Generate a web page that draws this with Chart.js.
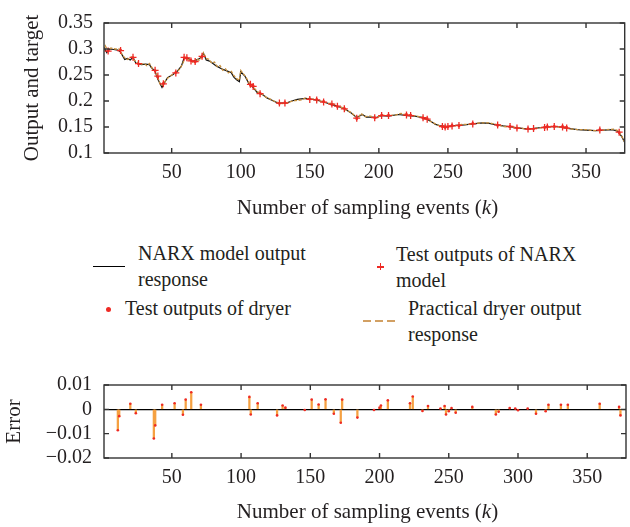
<!DOCTYPE html>
<html>
<head>
<meta charset="utf-8">
<script src="https://cdn.jsdelivr.net/npm/chart.js@4.4.0/dist/chart.umd.min.js"></script>
<style>
html, body { margin: 0; padding: 0; background: #fff; }
body { width: 630px; height: 527px; position: relative; overflow: hidden; font-family: 'Liberation Serif', serif; color: #231f20; }
#topBox { position: absolute; left: 0; top: 0; width: 630px; height: 225px; }
#errBox { position: absolute; left: 0; top: 360px; width: 630px; height: 167px; }
.lg { position: absolute; font-size: 20px; line-height: 26px; white-space: nowrap; }
.mk { position: absolute; }
.xt { position: absolute; left: 106px; width: 523px; text-align: center; font-size: 21px; line-height: 25px; white-space: nowrap; }
</style>
</head>
<body>
<div id="topBox"><canvas id="chart-top"></canvas></div>
<div class="xt" style="top:195px;">Number of sampling events (<i>k</i>)</div>

<div class="mk" style="left:93px;top:266px;width:32px;border-top:1.5px solid #000;"></div>
<div class="lg" style="left:138px;top:240px;">NARX model output<br>response</div>
<div class="mk" style="left:377px;top:266px;width:7px;height:1.5px;background:#ee2a24;"></div>
<div class="mk" style="left:379.7px;top:263px;width:1.5px;height:7px;background:#ee2a24;"></div>
<div class="lg" style="left:396px;top:241px;">Test outputs of NARX<br>model</div>
<div class="mk" style="left:105.5px;top:306.5px;width:5px;height:5px;border-radius:50%;background:#ee2a24;"></div>
<div class="lg" style="left:125px;top:295px;">Test outputs of dryer</div>
<div class="mk" style="left:363px;top:320px;width:32px;height:1.5px;background:repeating-linear-gradient(to right,#d2a063 0 8px,transparent 8px 12px);"></div>
<div class="lg" style="left:408px;top:295px;">Practical dryer output<br>response</div>

<div id="errBox"><canvas id="chart-err"></canvas></div>
<div class="xt" style="top:499px;">Number of sampling events (<i>k</i>)</div>

<script>
// axis ticks
const xTicks = [50, 100, 150, 200, 250, 300, 350];
const topYTicks = [0.1, 0.15, 0.2, 0.25, 0.3, 0.35];
const errYTicks = [-0.02, -0.01, 0, 0.01];

// NARX model output response
const modelK = [1, 3, 5, 8, 11, 13, 16, 18, 20, 22, 24, 28, 31, 34, 35, 38, 40, 43, 45, 47,
    51, 54, 57, 59, 62, 65, 69, 71, 73, 75, 78, 82, 86, 89, 93, 95, 97, 99, 100, 103,
    106, 109, 112, 116, 119, 123, 127, 133, 137, 141, 147, 152, 156, 160, 165, 170, 175, 180, 184, 188,
    191, 195, 198, 202, 207, 214, 221, 226, 232, 237, 241, 245, 250, 256, 262, 268, 275, 280, 285, 290,
    296, 302, 308, 314, 321, 326, 332, 338, 344, 350, 357, 363, 369, 373, 376, 378];
const modelOut = [0.303, 0.293, 0.300, 0.299, 0.298, 0.294, 0.280, 0.282, 0.279, 0.284, 0.273, 0.270, 0.271, 0.270, 0.265, 0.257, 0.242, 0.226, 0.236, 0.245,
    0.251, 0.257, 0.267, 0.283, 0.282, 0.276, 0.280, 0.283, 0.292, 0.279, 0.276, 0.268, 0.262, 0.259, 0.255, 0.246, 0.241, 0.237, 0.256, 0.248,
    0.233, 0.226, 0.216, 0.212, 0.206, 0.201, 0.196, 0.196, 0.200, 0.203, 0.205, 0.203, 0.201, 0.198, 0.194, 0.190, 0.185, 0.177, 0.168, 0.174,
    0.169, 0.169, 0.168, 0.172, 0.171, 0.174, 0.172, 0.171, 0.168, 0.162, 0.155, 0.152, 0.151, 0.153, 0.154, 0.156, 0.158, 0.157, 0.154, 0.152,
    0.150, 0.148, 0.146, 0.148, 0.150, 0.151, 0.150, 0.147, 0.145, 0.144, 0.143, 0.144, 0.145, 0.142, 0.131, 0.120];

// practical dryer output response
const dryerK = [1, 2, 4, 6, 9, 12, 14, 16, 18, 21, 23, 25, 27, 30, 32, 34, 36, 38, 40, 42,
    44, 46, 48, 51, 54, 56, 58, 60, 62, 64, 66, 68, 70, 72, 73, 75, 77, 79, 81, 83,
    85, 87, 89, 91, 93, 95, 97, 99, 100, 102, 104, 106, 108, 110, 112, 115, 118, 121, 124, 127,
    130, 133, 136, 140, 144, 147, 150, 153, 156, 160, 163, 166, 170, 173, 176, 180, 183, 185, 187, 190,
    194, 198, 202, 207, 212, 216, 221, 225, 229, 232, 235, 238, 241, 245, 250, 255, 260, 265, 270, 275,
    280, 285, 290, 295, 300, 305, 310, 315, 320, 325, 330, 335, 340, 345, 350, 355, 360, 365, 370, 373,
    376, 378];
const dryerOut = [0.297, 0.306, 0.296, 0.302, 0.300, 0.300, 0.290, 0.283, 0.280, 0.285, 0.278, 0.275, 0.270, 0.272, 0.268, 0.272, 0.263, 0.259, 0.245, 0.230,
    0.232, 0.241, 0.246, 0.252, 0.256, 0.262, 0.272, 0.284, 0.280, 0.278, 0.273, 0.281, 0.278, 0.286, 0.293, 0.282, 0.280, 0.273, 0.275, 0.266,
    0.268, 0.259, 0.262, 0.254, 0.258, 0.249, 0.243, 0.240, 0.259, 0.252, 0.245, 0.235, 0.229, 0.224, 0.218, 0.214, 0.208, 0.204, 0.200, 0.197,
    0.195, 0.196, 0.199, 0.201, 0.202, 0.206, 0.202, 0.204, 0.200, 0.199, 0.195, 0.196, 0.189, 0.188, 0.183, 0.178, 0.170, 0.167, 0.176, 0.170,
    0.171, 0.167, 0.173, 0.172, 0.173, 0.176, 0.173, 0.172, 0.170, 0.169, 0.164, 0.160, 0.156, 0.151, 0.150, 0.152, 0.155, 0.155, 0.157, 0.158,
    0.158, 0.155, 0.151, 0.150, 0.149, 0.147, 0.146, 0.148, 0.149, 0.151, 0.150, 0.148, 0.146, 0.145, 0.145, 0.143, 0.143, 0.145, 0.146, 0.143,
    0.132, 0.121];

// test outputs
const testK = [4, 13, 22, 26, 38, 40, 44, 53, 59, 61, 64, 67, 72, 107, 109, 114, 128, 132, 150, 155,
    160, 166, 170, 175, 184, 197, 202, 207, 220, 223, 232, 235, 246, 248, 250, 253, 258, 268, 286, 295,
    300, 308, 312, 320, 322, 327, 333, 336, 360, 374];
const testNarx = [0.296, 0.297, 0.284, 0.272, 0.259, 0.248, 0.233, 0.254, 0.284, 0.283, 0.277, 0.276, 0.286, 0.232, 0.228, 0.214, 0.196, 0.196, 0.203, 0.202,
    0.198, 0.194, 0.190, 0.185, 0.167, 0.168, 0.172, 0.172, 0.173, 0.172, 0.168, 0.165, 0.151, 0.150, 0.151, 0.152, 0.153, 0.156, 0.154, 0.151,
    0.148, 0.146, 0.147, 0.149, 0.150, 0.151, 0.150, 0.148, 0.144, 0.140];
const testDryer = [0.297, 0.298, 0.283, 0.271, 0.258, 0.246, 0.234, 0.255, 0.283, 0.282, 0.278, 0.275, 0.285, 0.231, 0.229, 0.215, 0.195, 0.197, 0.204, 0.203,
    0.199, 0.193, 0.189, 0.186, 0.166, 0.168, 0.173, 0.173, 0.174, 0.173, 0.167, 0.166, 0.151, 0.149, 0.150, 0.153, 0.152, 0.157, 0.153, 0.151,
    0.148, 0.147, 0.146, 0.149, 0.151, 0.151, 0.151, 0.149, 0.145, 0.139];

// error between model and dryer
const errK = [11, 12, 20, 24, 37, 38, 43, 52, 58, 60, 64, 71, 106, 107, 112, 126, 130, 132, 146, 151,
    156, 161, 167, 172, 173, 184, 196, 200, 201, 206, 222, 224, 231, 235, 244, 247, 248, 250, 252, 255,
    267, 284, 286, 294, 298, 300, 307, 313, 320, 322, 331, 336, 359, 373, 374];
const errVal = [-0.0086, -0.0028, 0.0023, -0.0016, -0.012, -0.0066, 0.0019, 0.0025, -0.0022, 0.004, 0.007, 0.0019, 0.0051, -0.0021, 0.0025, -0.0025, 0.0016, 0.0007, -0.0003, 0.004,
    0.002, 0.0041, -0.0018, -0.0055, 0.004, -0.0034, -0.0003, 0.0007, 0.0016, 0.0037, 0.0025, 0.0053, -0.0007, 0.0014, 0.0003, 0.0014, -0.0021, -0.0008, 0.0005, -0.0014,
    0.001, -0.0021, -0.001, 0.0005, 0.0003, -0.0004, 0.0003, -0.0018, -0.0008, 0.0019, 0.0019, 0.0019, 0.0023, 0.001, -0.0025];

const txt = '#231f20';
const tickFont = { family: 'Liberation Serif', size: 20 };
const titleFont = { family: 'Liberation Serif', size: 21 };

function pairs(ks, vs) {
    return ks.map((k, i) => ({ x: k, y: vs[i] }));
}

// box round the plot with inward tick marks on all four sides
const framePlugin = {
    id: 'frame',
    afterDraw(chart) {
        const { ctx, chartArea: a, scales: { x, y } } = chart;
        ctx.save();
        ctx.strokeStyle = '#333';
        ctx.lineWidth = 1.4;
        ctx.strokeRect(a.left, a.top, a.right - a.left, a.bottom - a.top);
        ctx.beginPath();
        x.ticks.forEach(t => {
            const px = x.getPixelForValue(t.value);
            ctx.moveTo(px, a.bottom); ctx.lineTo(px, a.bottom - 5);
            ctx.moveTo(px, a.top); ctx.lineTo(px, a.top + 5);
        });
        y.ticks.forEach(t => {
            const py = y.getPixelForValue(t.value);
            ctx.moveTo(a.left, py); ctx.lineTo(a.left + 5, py);
            ctx.moveTo(a.right, py); ctx.lineTo(a.right - 5, py);
        });
        ctx.stroke();
        ctx.restore();
    }
};

function xScale(height) {
    return {
        type: 'linear',
        min: 1,
        max: 378,
        offset: false,
        afterBuildTicks: s => { s.ticks = xTicks.map(v => ({ value: v })); },
        afterFit: s => { s.height = height; },
        grid: { display: false, drawTicks: false },
        border: { display: false },
        ticks: { font: tickFont, color: txt, padding: 8, maxRotation: 0, autoSkip: false },
        title: { display: false }
    };
}

new Chart(document.getElementById('chart-top'), {
    type: 'line',
    data: {
        datasets: [{
            label: 'Test outputs of NARX model',
            data: pairs(testK, testNarx),
            showLine: false,
            pointStyle: 'cross',
            pointRadius: 3.5,
            pointBorderColor: '#ee2a24',
            pointBorderWidth: 1.3
        }, {
            label: 'Test outputs of dryer',
            data: pairs(testK, testDryer),
            showLine: false,
            pointRadius: 1.4,
            pointBackgroundColor: '#ee2a24',
            pointBorderWidth: 0
        }, {
            label: 'Practical dryer output response',
            data: pairs(dryerK, dryerOut),
            borderColor: '#c8913f',
            borderWidth: 1.3,
            borderDash: [3, 1.5],
            pointRadius: 0,
            tension: 0
        }, {
            label: 'NARX model output response',
            data: pairs(modelK, modelOut),
            borderColor: '#111',
            borderWidth: 1.2,
            pointRadius: 0,
            tension: 0
        }]
    },
    options: {
        responsive: true,
        maintainAspectRatio: false,
        animation: false,
        layout: { padding: { top: 16, right: 3, left: 0, bottom: 0 } },
        plugins: { legend: { display: false }, tooltip: { enabled: false } },
        scales: {
            x: xScale(72),
            y: {
                min: 0.1,
                max: 0.35,
                afterBuildTicks: s => { s.ticks = topYTicks.map(v => ({ value: v })); },
                afterFit: s => { s.width = 104; },
                grid: { display: false, drawTicks: false },
                border: { display: false },
                ticks: {
                    font: tickFont, color: txt, padding: 11, autoSkip: false,
                    callback: v => String(+v.toFixed(2))
                },
                title: {
                    display: true,
                    text: 'Output and target',
                    font: titleFont,
                    color: txt,
                    padding: { top: 20, bottom: 0 }
                }
            }
        }
    },
    plugins: [framePlugin]
});

new Chart(document.getElementById('chart-err'), {
    type: 'bar',
    data: {
        datasets: [{
            type: 'line',
            label: 'Error tips',
            data: pairs(errK, errVal),
            showLine: false,
            pointRadius: 1.3,
            pointBackgroundColor: '#ee2a24',
            pointBorderWidth: 0
        }, {
            label: 'Error',
            data: pairs(errK, errVal),
            backgroundColor: '#f5a142',
            barThickness: 1.6,
            grouped: false
        }]
    },
    options: {
        responsive: true,
        maintainAspectRatio: false,
        animation: false,
        layout: { padding: { top: 25, right: 3, left: 0, bottom: 0 } },
        plugins: { legend: { display: false }, tooltip: { enabled: false } },
        scales: {
            x: xScale(69),
            y: {
                min: -0.02,
                max: 0.01,
                afterBuildTicks: s => { s.ticks = errYTicks.map(v => ({ value: v })); },
                afterFit: s => { s.width = 104; },
                grid: {
                    drawTicks: false,
                    lineWidth: 1.2,
                    color: c => (Math.abs(c.tick.value) < 1e-9 ? '#000' : 'rgba(0,0,0,0)')
                },
                border: { display: false },
                ticks: {
                    font: tickFont, color: txt, padding: 12, autoSkip: false,
                    callback: v => (Math.abs(v) < 1e-9 ? '0' : (v < 0 ? '\u2212' : '') + Math.abs(v).toFixed(2))
                },
                title: {
                    display: true,
                    text: 'Error',
                    font: titleFont,
                    color: txt,
                    padding: { top: 2, bottom: 0 }
                }
            }
        }
    },
    plugins: [framePlugin]
});
</script>
</body>
</html>
